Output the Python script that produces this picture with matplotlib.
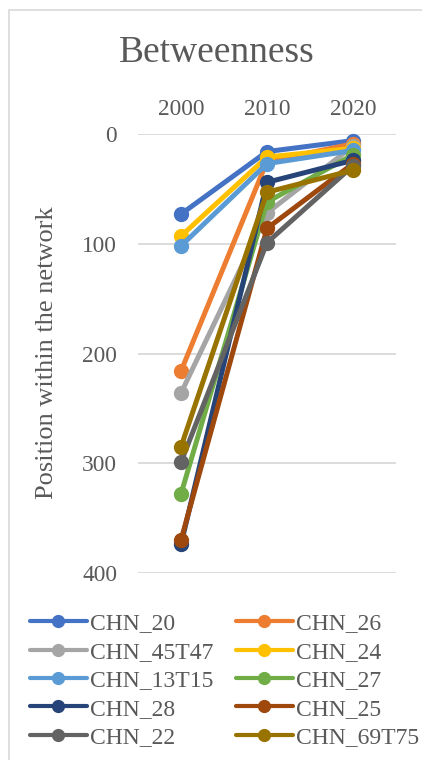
import matplotlib.pyplot as plt
from matplotlib.patches import Rectangle

# Rank of each sector in the betweenness ordering, per year
years = ['2000', '2010', '2020']
series_names = ['CHN_20', 'CHN_26', 'CHN_45T47', 'CHN_24', 'CHN_13T15',
                'CHN_27', 'CHN_28', 'CHN_25', 'CHN_22', 'CHN_69T75']
chn_20 = [73, 16, 6]
chn_26 = [216, 25, 9]
chn_45t47 = [236, 72, 11]
chn_24 = [93, 21, 13]
chn_13t15 = [102, 27, 15]
chn_27 = [328, 62, 19]
chn_28 = [374, 44, 24]
chn_25 = [370, 86, 27]
chn_22 = [299, 99, 29]
chn_69t75 = [285, 53, 33]
series_values = [chn_20, chn_26, chn_45t47, chn_24, chn_13t15,
                 chn_27, chn_28, chn_25, chn_22, chn_69t75]
colors = ['#4472C4', '#ED7D31', '#A5A5A5', '#FFC000', '#5B9BD5',
          '#70AD47', '#264478', '#9E480E', '#636363', '#997300']

plt.rcParams['font.family'] = ['Liberation Serif', 'DejaVu Serif']
text_color = '#595959'

fig = plt.figure(figsize=(4.22, 7.6), dpi=100)
ax = fig.add_axes([138 / 422, 1 - 573 / 760, 258 / 422, 439 / 760])

handles = []
for name, vals, c in zip(series_names, series_values, colors):
    h, = ax.plot(range(len(years)), vals, color=c, lw=3.6, marker='o',
                 markersize=10, solid_capstyle='round', label=name, clip_on=False)
    handles.append(h)

ax.set_xlim(-0.5, 2.5)
ax.set_ylim(400, 0)
ax.set_yticks([0, 100, 200, 300, 400])
ax.set_xticks(range(len(years)))
ax.set_xticklabels(years)
ax.xaxis.tick_top()
ax.tick_params(axis='x', length=0, pad=10, labelsize=16.8, colors=text_color)
ax.tick_params(axis='y', length=0, pad=15, labelsize=16.8, colors=text_color)
ax.grid(axis='y', color='#D9D9D9', lw=1.3)
ax.set_axisbelow(True)
for s in ax.spines.values():
    s.set_visible(False)

fig.text(217 / 422, 1 - 53 / 760, 'Betweenness', ha='center', va='center',
         fontsize=27, color=text_color)
fig.text(47 / 422, 1 - 353 / 760, 'Position within the network', rotation=90,
         ha='center', va='center', fontsize=19, color=text_color)

# legend is filled row by row: reorder for matplotlib's column-major layout
order = [0, 2, 4, 6, 8, 1, 3, 5, 7, 9]
leg = fig.legend([handles[i] for i in order], [series_names[i] for i in order],
                 ncol=2, loc='upper left', bbox_to_anchor=(30 / 422, 1 - 613 / 760),
                 frameon=False, fontsize=17, handlelength=2.4, handletextpad=0.15,
                 columnspacing=0.95, labelspacing=0.29, borderaxespad=0,
                 borderpad=0, markerscale=0.85)
for t in leg.get_texts():
    t.set_color(text_color)
for lh in leg.get_lines():
    lh.set_linewidth(3.0)

# chart border
fig.patches.append(Rectangle((9 / 422, -0.1), 1.2, 1 - 10 / 760 + 0.1,
                             transform=fig.transFigure, fill=False,
                             edgecolor='#D9D9D9', lw=1.2))

fig.savefig('out.png', dpi=100)
